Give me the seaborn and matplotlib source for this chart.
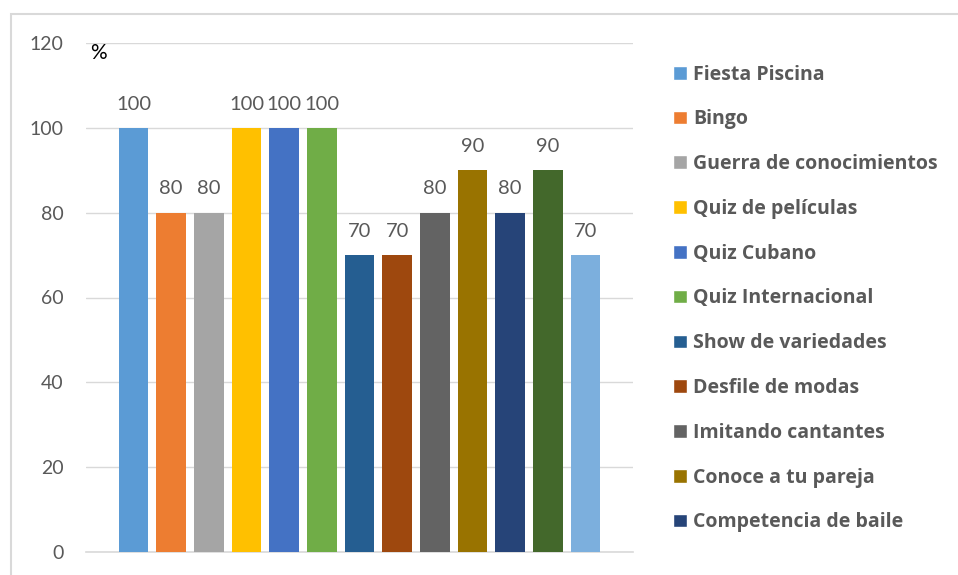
import matplotlib
matplotlib.use("Agg")
import matplotlib.pyplot as plt
import seaborn as sns
import pandas as pd
from matplotlib.patches import Rectangle

categories = ["Fiesta Piscina", "Bingo", "Guerra de conocimientos", "Quiz de películas",
              "Quiz Cubano", "Quiz Internacional", "Show de variedades", "Desfile de modas",
              "Imitando cantantes", "Conoce a tu pareja", "Competencia de baile",
              "Actividad 12", "Actividad 13"]
values = [100, 80, 80, 100, 100, 100, 70, 70, 80, 90, 80, 90, 70]
colors = ["#5B9BD5", "#ED7D31", "#A5A5A5", "#FFC000", "#4472C4", "#70AD47",
          "#255E91", "#9E480E", "#636363", "#997300", "#264478", "#43682B", "#7CAFDD"]
legend_count = 11
y_ticks = [0, 20, 40, 60, 80, 100, 120]

sns.set_theme(style="white")
plt.rcParams["font.family"] = ["Lato", "DejaVu Sans"]

df = pd.DataFrame({"cat": categories, "val": values})

fig = plt.figure(figsize=(9.58, 5.75), dpi=100)
ax = fig.add_axes([86/958, 23/575, (633-86)/958, (552-43)/575])

sns.barplot(data=df, x="cat", y="val", hue="cat", palette=colors, order=categories,
            hue_order=categories, width=0.78, dodge=False, legend=False, ax=ax,
            saturation=1, edgecolor="none", zorder=3)

for c in ax.containers:
    ax.bar_label(c, padding=11, fontsize=14.5, color="#595959")

ax.set_ylim(0, 120)
ax.set_xlim(-1.26, 13.26)
ax.set_yticks(y_ticks)
ax.set_yticklabels([str(t) for t in y_ticks], fontsize=14, color="#595959")
ax.tick_params(axis="y", length=0, pad=16)
ax.set_xticks([])
ax.set_xlabel("")
ax.set_ylabel("")
ax.grid(axis="y", color="#D9D9D9", lw=1, zorder=0)
for s in ["top", "right", "left"]:
    ax.spines[s].set_visible(False)
ax.spines["bottom"].set_color("#D9D9D9")
ax.spines["bottom"].set_linewidth(1.2)

ax.text(-0.92, 117.6, "%", fontsize=15, color="black", ha="center", va="center")

handles = [Rectangle((0, 0), 1, 1, facecolor=colors[i]) for i in range(legend_count)]
leg = fig.legend(handles, categories[:legend_count], loc="upper left",
                 bbox_to_anchor=(673/958, 1 - 64.5/575), frameon=False,
                 prop={"weight": "bold", "size": 14, "family": ["Open Sans", "DejaVu Sans"]},
                 labelcolor="#595959",
                 handlelength=0.7, handleheight=0.7, handletextpad=0.33,
                 labelspacing=1.275, borderpad=0, borderaxespad=0)

fig.patches.append(Rectangle((11/958, -0.05), 2, 1 - 14/575 + 0.05,
                             transform=fig.transFigure, fill=False,
                             edgecolor="#D9D9D9", lw=1.5))

fig.savefig("out.png", dpi=100)
